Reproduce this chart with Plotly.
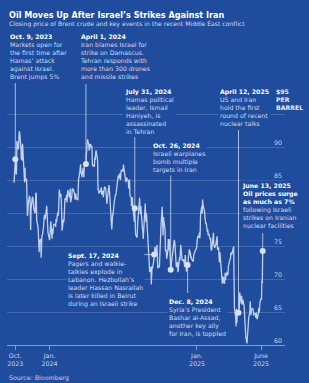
import pandas as pd
import plotly.graph_objects as go

# ---------------- DATA: Brent closing price (USD/bbl), (day, price) per month ----------------
b2023_10 = [(6,84.58),(9,88.15),(10,87.65),(11,85.82),(12,86.00),(13,90.89),(16,89.65),(17,89.90),(18,91.50),(19,92.38),(20,92.16),(23,89.83),(24,88.07),(25,90.13),(26,87.93),(27,90.48),(30,87.45),(31,87.41)]
b2023_11 = [(1,84.63),(2,86.85),(3,84.89),(6,85.18),(7,81.61),(8,79.54),(9,80.01),(10,81.43),(13,82.52),(14,82.47),(15,81.18),(16,77.42),(17,80.61),(20,82.32),(21,82.45),(22,81.96),(23,81.42),(24,80.58),(27,79.98),(28,81.68),(29,83.10),(30,82.83)]
b2023_12 = [(1,78.88),(4,78.03),(5,77.20),(6,74.30),(7,74.05),(8,75.84),(11,76.03),(12,73.24),(13,74.26),(14,76.61),(15,76.55),(18,77.95),(19,79.23),(20,79.70),(21,79.39),(22,79.07),(26,81.07),(27,79.65),(28,78.39),(29,77.04)]
b2024_01 = [(2,75.89),(3,78.25),(4,77.59),(5,78.76),(8,76.12),(9,77.59),(10,76.80),(11,77.41),(12,78.29),(16,78.29),(17,77.88),(18,79.10),(19,78.56),(22,80.06),(23,79.55),(24,80.04),(25,82.43),(26,83.55),(29,82.40),(30,82.87),(31,81.71)]
b2024_02 = [(1,78.70),(2,77.33),(5,78.99),(6,78.59),(7,79.21),(8,81.63),(9,82.19),(12,82.00),(13,82.77),(14,81.60),(15,82.86),(16,83.47),(20,82.34),(21,83.03),(22,83.67),(23,81.62),(26,82.53),(27,83.65),(28,83.68),(29,83.62)]
b2024_03 = [(1,83.55),(4,82.80),(5,82.04),(6,82.96),(7,82.96),(8,82.08),(11,82.21),(12,81.92),(13,84.03),(14,85.42),(15,85.34),(18,86.89),(19,87.38),(20,85.95),(21,86.10),(22,85.43),(25,86.75),(26,86.25),(27,85.41),(28,87.48)]
b2024_04 = [(1,87.42),(2,88.92),(3,89.35),(4,90.65),(5,91.17),(8,90.38),(9,89.42),(10,90.48),(11,89.74),(12,90.45),(15,90.10),(16,90.02),(17,87.29),(18,87.11),(19,87.29),(22,87.00),(23,88.42),(24,88.02),(25,89.01),(26,89.50),(29,88.40),(30,87.86)]
b2024_05 = [(1,83.44),(2,83.67),(3,82.96),(6,83.33),(7,83.16),(8,83.58),(9,83.88),(10,82.79),(13,83.36),(14,82.38),(15,82.75),(16,83.27),(17,83.98),(20,83.71),(21,82.88),(22,82.90),(23,81.36),(24,82.12),(28,84.22),(29,83.60),(30,81.86),(31,81.62)]
b2024_06 = [(3,78.36),(4,77.52),(5,78.41),(6,79.87),(7,79.62),(10,81.63),(11,81.92),(12,82.60),(13,82.75),(14,82.62),(17,84.25),(18,85.33),(19,85.07),(20,85.71),(21,85.24),(24,86.01),(25,85.01),(26,85.25),(27,86.39),(28,86.41)]
b2024_07 = [(1,86.60),(2,86.24),(3,87.34),(5,86.54),(8,85.75),(9,84.66),(10,85.08),(11,85.40),(12,85.03),(15,84.85),(16,83.73),(17,85.08),(18,85.11),(19,82.63),(22,82.40),(23,81.01),(24,81.71),(25,82.37),(26,81.13),(29,79.78),(30,78.63),(31,80.72)]
b2024_08 = [(1,79.52),(2,76.81),(5,76.30),(6,76.48),(7,78.33),(8,79.16),(9,79.66),(12,82.30),(13,80.69),(14,79.76),(15,81.04),(16,79.68),(19,77.66),(20,77.20),(21,76.05),(22,77.22),(23,79.02),(26,81.43),(27,79.55),(28,78.65),(29,79.94),(30,78.80)]
b2024_09 = [(3,73.75),(4,72.70),(5,72.69),(6,71.06),(9,71.84),(10,69.19),(11,70.61),(12,71.97),(13,71.61),(16,72.75),(17,73.70),(18,73.65),(19,74.88),(20,74.49),(23,73.90),(24,75.17),(25,73.46),(26,71.60),(27,71.98),(30,71.77)]
b2024_10 = [(1,73.56),(2,73.90),(3,77.62),(4,78.05),(7,80.93),(8,77.18),(9,76.58),(10,79.40),(11,79.04),(14,77.46),(15,74.25),(16,74.22),(17,74.45),(18,73.06),(21,74.29),(22,76.04),(23,74.96),(24,74.38),(25,76.05),(28,71.42),(29,71.12),(30,72.55),(31,73.16)]
b2024_11 = [(1,73.10),(4,75.08),(5,75.53),(6,75.92),(7,75.63),(8,73.87),(11,71.83),(12,71.89),(13,72.28),(14,72.56),(15,71.04),(18,73.30),(19,73.31),(20,72.81),(21,74.23),(22,75.17),(25,73.01),(26,72.81),(27,72.83),(29,72.94)]
b2024_12 = [(2,71.83),(3,73.62),(4,72.31),(5,72.09),(6,71.12),(9,72.14),(10,72.19),(11,73.52),(12,73.41),(13,74.49),(16,73.91),(17,73.19),(18,73.39),(19,72.88),(20,72.94),(23,72.63),(24,73.58),(27,74.17),(30,74.39),(31,74.64)]
b2025_01 = [(2,75.93),(3,76.51),(6,76.30),(7,77.05),(8,76.16),(9,76.92),(10,79.76),(13,81.01),(14,79.92),(15,82.03),(16,81.29),(17,81.03),(20,80.15),(21,79.29),(22,79.00),(23,78.29),(24,78.50),(27,77.08),(28,77.49),(29,76.58),(30,76.87),(31,76.76)]
b2025_02 = [(3,75.96),(4,76.20),(5,74.61),(6,74.29),(7,74.66),(10,75.87),(11,77.00),(12,75.18),(13,75.02),(14,74.74),(17,75.22),(18,75.84),(19,76.04),(20,76.48),(21,74.43),(24,74.78),(25,73.02),(26,72.53),(27,74.04),(28,73.18)]
b2025_03 = [(3,71.62),(4,71.04),(5,69.30),(6,69.46),(7,70.36),(10,69.28),(11,69.56),(12,70.95),(13,69.88),(14,70.58),(17,71.07),(18,70.56),(19,70.78),(20,72.00),(21,72.16),(24,73.00),(25,73.02),(26,73.79),(27,74.03),(28,73.63),(31,74.74)]
b2025_04 = [(1,74.49),(2,74.95),(3,70.14),(4,65.58),(7,64.21),(8,62.82),(9,65.48),(10,63.33),(11,64.76),(14,64.88),(15,64.67),(16,65.85),(17,67.96),(21,66.26),(22,67.44),(23,66.12),(24,66.55),(25,66.87),(28,65.86),(29,64.25),(30,63.12)]
b2025_05 = [(1,62.13),(2,61.29),(5,60.23),(6,62.15),(7,61.12),(8,62.84),(9,63.91),(12,64.96),(13,66.63),(14,66.09),(15,64.53),(16,65.41),(19,65.54),(20,65.38),(21,64.91),(22,64.44),(23,64.78),(26,64.74),(27,64.09),(28,64.90),(29,64.15),(30,63.90)]
b2025_06 = [(2,64.63),(3,65.63),(4,64.86),(5,65.34),(6,66.47),(9,67.04),(10,66.87),(11,69.77),(12,69.36),(13,74.23)]

months = {
    "2023-10": b2023_10, "2023-11": b2023_11, "2023-12": b2023_12,
    "2024-01": b2024_01, "2024-02": b2024_02, "2024-03": b2024_03, "2024-04": b2024_04,
    "2024-05": b2024_05, "2024-06": b2024_06, "2024-07": b2024_07, "2024-08": b2024_08,
    "2024-09": b2024_09, "2024-10": b2024_10, "2024-11": b2024_11, "2024-12": b2024_12,
    "2025-01": b2025_01, "2025-02": b2025_02, "2025-03": b2025_03, "2025-04": b2025_04,
    "2025-05": b2025_05, "2025-06": b2025_06,
}

# Key events (date of the marked close)
event_dates = ["2023-10-09", "2024-04-01", "2024-07-31", "2024-09-17",
               "2024-10-28", "2024-12-09", "2025-04-14", "2025-06-13"]
event_titles = ["Oct. 9, 2023", "April 1, 2024", "July 31, 2024", "Sept. 17, 2024",
                "Oct. 26, 2024", "Dec. 8, 2024", "April 12, 2025", "June 13, 2025"]
event_texts = [
    ["Markets open for", "the first time after", "Hamas’ attack", "against Israel.", "Brent jumps 5%"],
    ["Iran blames Israel for", "strike on Damascus.", "Tehran responds with", "more than 300 drones", "and missile strikes"],
    ["Hamas political", "leader, Ismail", "Haniyeh, is", "assassinated", "in Tehran"],
    ["Pagers and walkie-", "talkies explode in", "Lebanon. Hezbollah’s", "leader Hassan Nasrallah", "is later killed in Beirut", "during an Israeli strike"],
    ["Israeli warplanes", "bomb multiple", "targets in Iran"],
    ["Syria’s President", "Bashar al-Assad,", "another key ally", "for Iran, is toppled"],
    ["US and Iran", "hold the first", "round of recent", "nuclear talks"],
    ["following Israeli", "strikes on Iranian", "nuclear facilities"],
]
event_bold_extra = ["", "", "", "", "", "", "", "Oil prices surge<br>as much as 7%"]

y_tickvals = [60, 65, 70, 75, 80, 85, 90, 95]
y_ticktext = ["60", "65", "70", "75", "", "85", "90", ""]   # 80 is hidden behind the June 13 note
x_tickvals = ["2023-10-09", "2024-01-02", "2025-01-01", "2025-06-09"]
x_ticktext = ["Oct.<br>2023", "Jan.<br>2024", "Jan.<br>2025", "June<br>2025"]

# ---------------- build series ----------------
dates, prices = [], []
for ym, rows in months.items():
    for d, p in rows:
        dates.append(pd.Timestamp(f"{ym}-{d:02d}"))
        prices.append(p)
series = pd.Series(prices, index=dates)
ev_x = [pd.Timestamp(d) for d in event_dates]
ev_y = [series[d] for d in ev_x]

# ---------------- layout geometry ----------------
W, H = 309, 383
L, R, T, B = 7, 24, 45, 38
PW, PH = W - L - R, H - T - B
PX_PER_UNIT = 6.6
PX_PER_DAY = 0.4036
Y0 = 60
Y1 = Y0 + PH / PX_PER_UNIT
x_start = pd.Timestamp("2023-10-09") - pd.Timedelta(days=(15.3 - L) / PX_PER_DAY)
x_end = x_start + pd.Timedelta(days=PW / PX_PER_DAY)

def px_x(x):
    return (x - L) / PW

def px_y(y):
    return (H - B - y) / PH

def py_to_val(y):
    return Y0 + (H - B - y) / PX_PER_UNIT

def px_to_date(x):
    return x_start + pd.Timedelta(days=(x - L) / PX_PER_DAY)

BG = "#1f4c9c"
LINE = "#c3d1ee"
TXT = "#d3dcee"
FONT = "DejaVu Sans"
FS = 6.2

fig = go.Figure()
fig.add_trace(go.Scatter(x=series.index, y=series.values, mode="lines",
                         line=dict(color=LINE, width=1.3), hoverinfo="skip", showlegend=False))
fig.add_trace(go.Scatter(x=ev_x, y=ev_y, mode="markers",
                         marker=dict(color="#d9e1ef", size=6), hoverinfo="skip", showlegend=False))

# leader lines: (event index, kind, text-end pixel)
leaders = [(0, "v", 83), (1, "v", 84), (2, "v", 137), (3, "h", 113.5),
           (4, "v", 175), (5, "v", 293), (6, "v", 130), (7, "v", 233)]
shapes = []
for i, kind, end in leaders:
    if kind == "v":
        shapes.append(dict(type="line", xref="x", yref="y", x0=ev_x[i], x1=ev_x[i],
                           y0=ev_y[i], y1=py_to_val(end), layer="between",
                           line=dict(color="rgba(215,226,244,0.75)", width=1)))
    else:
        shapes.append(dict(type="line", xref="x", yref="y", x0=px_to_date(end), x1=ev_x[i],
                           y0=ev_y[i], y1=ev_y[i], layer="between",
                           line=dict(color="rgba(215,226,244,0.75)", width=1)))

# annotation text block positions (left px, first-line centre px)
text_pos = [(7.5, 35.7), (77.5, 35.7), (123, 91), (66, 254.7),
            (150.5, 145), (167, 300.7), (218, 91), (240, 185)]
annotations = []
for i, (lx, cy) in enumerate(text_pos):
    head = event_titles[i]
    if event_bold_extra[i]:
        head = head + "<br>" + event_bold_extra[i]
    txt = f"<span style='color:#ffffff'><b>{head}</b></span><br>" + "<br>".join(event_texts[i])
    annotations.append(dict(xref="paper", yref="paper", x=px_x(lx), y=px_y(cy - FS * 0.65 - 1),
                            xanchor="left", yanchor="top", align="left", showarrow=False,
                            text=txt, font=dict(family=FONT, size=FS, color=TXT),
                            bgcolor=BG, borderpad=1))
annotations.append(dict(xref="paper", yref="paper", x=px_x(273.5), y=px_y(91 - FS * 0.65 - 1),
                        xanchor="left", yanchor="top", align="left", showarrow=False,
                        text="<b>$95<br>PER<br>BARREL</b>",
                        font=dict(family=FONT, size=FS, color="#e6ecf6"), bgcolor=BG, borderpad=1))
annotations.append(dict(xref="paper", yref="paper", x=px_x(7), y=px_y(15), xanchor="left", yanchor="middle",
                        showarrow=False, text="<b>Oil Moves Up After Israel’s Strikes Against Iran</b>",
                        font=dict(family=FONT, size=8.1, color="#ffffff")))
annotations.append(dict(xref="paper", yref="paper", x=px_x(7), y=px_y(24.5), xanchor="left", yanchor="middle",
                        showarrow=False,
                        text="Closing price of Brent crude and key events in the recent Middle East conflict",
                        font=dict(family=FONT, size=6.1, color="#d3dcee")))
annotations.append(dict(xref="paper", yref="paper", x=px_x(6.5), y=px_y(378.3), xanchor="left", yanchor="middle",
                        showarrow=False, text="Source: Bloomberg",
                        font=dict(family=FONT, size=6.3, color="#c9d3e8")))

fig.update_layout(
    width=W, height=H, autosize=False,
    margin=dict(l=L, r=R, t=T, b=B, pad=0),
    paper_bgcolor=BG, plot_bgcolor=BG,
    showlegend=False,
    shapes=shapes, annotations=annotations,
    xaxis=dict(range=[x_start, x_end], tickvals=x_tickvals, ticktext=x_ticktext,
               showgrid=False, zeroline=False, showline=True, linecolor="rgba(200,214,240,0.6)",
               linewidth=1, ticks="outside", ticklen=4, tickcolor="rgba(200,214,240,0.6)",
               tickfont=dict(family=FONT, size=6.3, color="#cfd8eb")),
    yaxis=dict(range=[Y0, Y1], side="right", tickvals=y_tickvals, ticktext=y_ticktext,
               ticklabelposition="inside top", showgrid=True, gridcolor="rgba(255,255,255,0.17)",
               gridwidth=1, zeroline=False, showline=False, ticks="",
               tickfont=dict(family=FONT, size=6.3, color="#c9d3e6")),
)

fig.write_html("out.html")
